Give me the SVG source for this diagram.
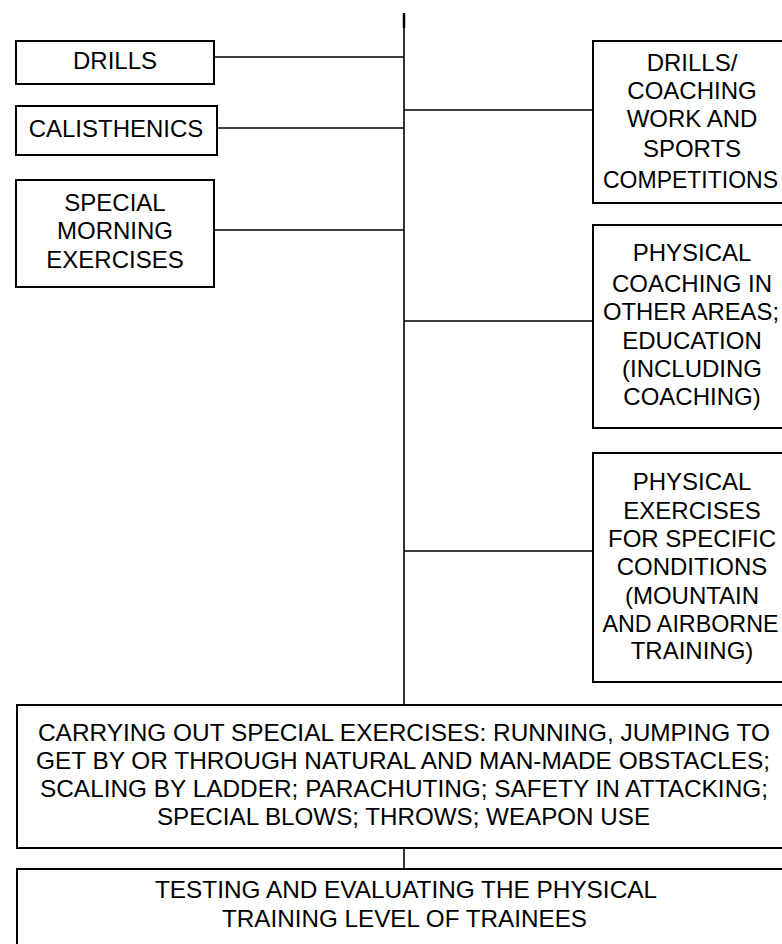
<svg xmlns="http://www.w3.org/2000/svg" width="782" height="944" viewBox="0 0 782 944">
<style>
.box{fill:#fff;stroke:#000;stroke-width:2}
.t{font-family:"Liberation Sans",Arial,sans-serif;font-size:24px;fill:#000;text-anchor:middle}
.c{stroke:#000;stroke-width:1.6;fill:none}
</style>
<rect width="782" height="944" fill="#fff"/>
<g id="connectors">
<line class="c" x1="404" y1="13" x2="404" y2="705"/>
<line x1="404" y1="13" x2="404" y2="28" stroke="#000" stroke-width="2.5"/>
<line class="c" x1="214" y1="57" x2="404" y2="57"/>
<line class="c" x1="217" y1="128" x2="404" y2="128"/>
<line class="c" x1="214" y1="230" x2="404" y2="230"/>
<line class="c" x1="404" y1="110" x2="593" y2="110"/>
<line class="c" x1="404" y1="321" x2="593" y2="321"/>
<line class="c" x1="404" y1="551" x2="593" y2="551"/>
<line class="c" x1="404" y1="848" x2="404" y2="869"/>
</g>
<g id="drills">
<rect class="box" x="16" y="41" width="198" height="43"/>
<text class="t" x="115" y="69">DRILLS</text>
</g>
<g id="calisthenics">
<rect class="box" x="16" y="106" width="201" height="49"/>
<text class="t" x="116" y="136.5">CALISTHENICS</text>
</g>
<g id="special-morning">
<rect class="box" x="16" y="180" width="198" height="107"/>
<text class="t" x="115" y="211">SPECIAL</text>
<text class="t" x="115" y="239">MORNING</text>
<text class="t" x="115" y="268">EXERCISES</text>
</g>
<g id="drills-coaching">
<rect class="box" x="593" y="41" width="200" height="162"/>
<text class="t" x="692" y="71">DRILLS/</text>
<text class="t" x="692" y="99">COACHING</text>
<text class="t" x="692" y="127">WORK AND</text>
<text class="t" x="692" y="157">SPORTS</text>
<text class="t" x="690.5" y="188" textLength="175" lengthAdjust="spacingAndGlyphs">COMPETITIONS</text>
</g>
<g id="physical-coaching">
<rect class="box" x="593" y="225" width="200" height="203"/>
<text class="t" x="692" y="261">PHYSICAL</text>
<text class="t" x="692" y="292">COACHING IN</text>
<text class="t" x="691" y="320" textLength="176" lengthAdjust="spacingAndGlyphs">OTHER AREAS;</text>
<text class="t" x="692" y="348.5">EDUCATION</text>
<text class="t" x="692" y="376.5">(INCLUDING</text>
<text class="t" x="692" y="405">COACHING)</text>
</g>
<g id="physical-exercises">
<rect class="box" x="593" y="453" width="200" height="229"/>
<text class="t" x="692" y="490">PHYSICAL</text>
<text class="t" x="692" y="519">EXERCISES</text>
<text class="t" x="692" y="547">FOR SPECIFIC</text>
<text class="t" x="692" y="575">CONDITIONS</text>
<text class="t" x="692" y="604">(MOUNTAIN</text>
<text class="t" x="690.5" y="632" textLength="176" lengthAdjust="spacingAndGlyphs">AND AIRBORNE</text>
<text class="t" x="692" y="659">TRAINING)</text>
</g>
<g id="special-exercises">
<rect class="box" x="17" y="705" width="780" height="143"/>
<text class="t" x="404" y="741" textLength="732" lengthAdjust="spacingAndGlyphs">CARRYING OUT SPECIAL EXERCISES: RUNNING, JUMPING TO</text>
<text class="t" x="403" y="769" textLength="734" lengthAdjust="spacingAndGlyphs">GET BY OR THROUGH NATURAL AND MAN-MADE OBSTACLES;</text>
<text class="t" x="404" y="797" textLength="728" lengthAdjust="spacingAndGlyphs">SCALING BY LADDER; PARACHUTING; SAFETY IN ATTACKING;</text>
<text class="t" x="403.5" y="825" textLength="493" lengthAdjust="spacingAndGlyphs">SPECIAL BLOWS; THROWS; WEAPON USE</text>
</g>
<g id="testing">
<rect class="box" x="17" y="869" width="780" height="90"/>
<text class="t" x="406" y="898" textLength="502" lengthAdjust="spacingAndGlyphs">TESTING AND EVALUATING THE PHYSICAL</text>
<text class="t" x="404.5" y="927" textLength="365" lengthAdjust="spacingAndGlyphs">TRAINING LEVEL OF TRAINEES</text>
</g>
</svg>
